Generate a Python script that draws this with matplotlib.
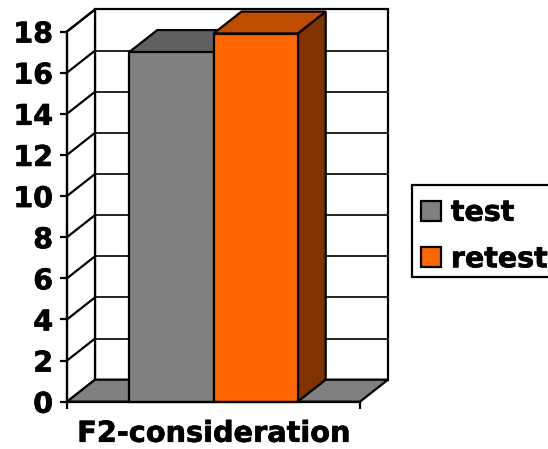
import matplotlib
matplotlib.use("Agg")
import matplotlib.pyplot as plt
import matplotlib.patheffects as pe
from matplotlib.patches import Polygon, Patch, Rectangle

categories = ["F2-consideration"]
series_names = ["test", "retest"]
series_values = [17.0, 17.9]
y_ticks = [0, 2, 4, 6, 8, 10, 12, 14, 16, 18]

front_colors = ["#808080", "#FF6600"]
top_colors = ["#606060", "#BF4D00"]
side_colors = ["#606060", "#803300"]

W, H = 548, 449
BAR_W = 0.2874
LW = 1.6
# depth of the fake 3d box, in data units
DX = 28 / 293
DY = 22 / 20.55
# bolder than DejaVu bold, closer to the reference font
HEAVY = [pe.withStroke(linewidth=0.5, foreground="black")]


def add_poly(ax, pts, color, z, lw=LW):
    ax.add_patch(Polygon(pts, closed=True, facecolor=color, edgecolor="black",
                         linewidth=lw, clip_on=False, zorder=z, joinstyle="miter"))


plt.rcParams["font.family"] = "DejaVu Sans"
plt.rcParams["font.weight"] = "bold"

fig = plt.figure(figsize=(W / 100, H / 100), dpi=100)
ax = fig.add_axes([67 / W, (H - 401.7) / H, 293 / W, 370.2 / H])
ax.set_xlim(0, 1)
ax.set_ylim(0, 18)
ax.patch.set_visible(False)

# back wall and left wall
add_poly(ax, [(DX, DY), (1 + DX, DY), (1 + DX, 18 + DY), (DX, 18 + DY)], "white", 1)
add_poly(ax, [(0, 0), (DX, DY), (DX, 18 + DY), (0, 18)], "white", 1)

for t in y_ticks[1:-1]:
    ax.plot([DX, 1 + DX], [t + DY, t + DY], color="#222222", lw=1.4, zorder=2, clip_on=False)
for t in y_ticks[1:]:
    ax.plot([0, DX], [t, t + DY], color="black", lw=LW, zorder=2, clip_on=False)

# floor
add_poly(ax, [(0, 0), (1, 0), (1 + DX, DY), (DX, DY)], "#808080", 3)

# bars, front face through ax.bar then the top and side faces on it
lefts = [0.5 - BAR_W, 0.5]
for i, val in enumerate(series_values):
    x0 = lefts[i]
    x1 = x0 + BAR_W
    add_poly(ax, [(x1, 0), (x1 + DX, DY), (x1 + DX, val + DY), (x1, val)], side_colors[i], 4 + i)
    add_poly(ax, [(x0, val), (x1, val), (x1 + DX, val + DY), (x0 + DX, val + DY)], top_colors[i], 4 + i)
    ax.bar(x0, val, width=BAR_W, align="edge", color=front_colors[i], edgecolor="black",
           linewidth=LW, zorder=4 + i, clip_on=False)

for s in ["top", "right"]:
    ax.spines[s].set_visible(False)
for s in ["left", "bottom"]:
    ax.spines[s].set_linewidth(LW)
    ax.spines[s].set_zorder(10)

ax.set_yticks(y_ticks)
ax.tick_params(axis="y", length=5, width=LW, pad=5, labelsize=20.5)
ax.set_xticks([0.5])
ax.set_xticklabels(categories, fontsize=20.7)
ax.tick_params(axis="x", which="major", length=0, pad=13)
ax.set_xticks([0, 1], minor=True)
ax.tick_params(axis="x", which="minor", length=5, width=LW)
for lab in ax.get_xticklabels() + ax.get_yticklabels():
    lab.set_path_effects(HEAVY)

# legend frame runs off the right edge of the picture
fig.add_artist(Rectangle((411.7 / W, (H - 277) / H), 200 / W, 92 / H, transform=fig.transFigure,
                         facecolor="white", edgecolor="black", linewidth=LW, zorder=-1))
handles = [Patch(facecolor=front_colors[i], edgecolor="black", linewidth=LW, label=series_names[i])
           for i in range(2)]
leg = ax.legend(handles=handles, loc="center left", bbox_to_anchor=(421 / W, (H - 236) / H),
                bbox_transform=fig.transFigure, fontsize=20.5, frameon=False, borderpad=0,
                handlelength=0.7, handleheight=0.7, handletextpad=0.35, labelspacing=0.65,
                borderaxespad=0)
leg.set_zorder(20)
for txt in leg.get_texts():
    txt.set_path_effects(HEAVY)

fig.savefig("out.png", dpi=100)
